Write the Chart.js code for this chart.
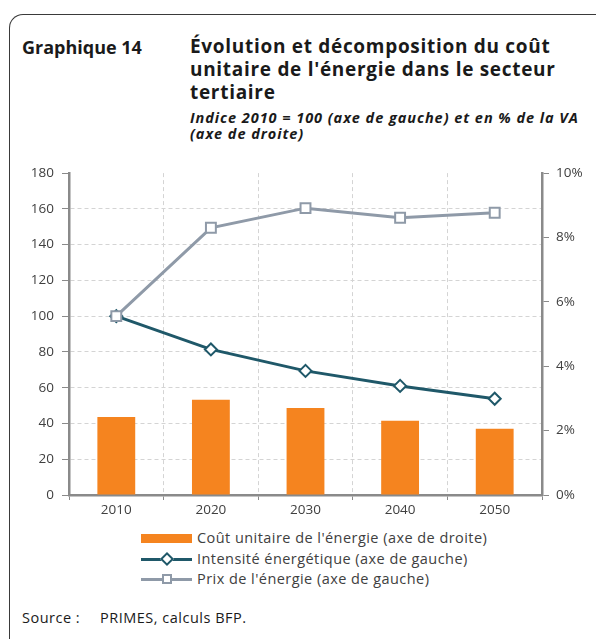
<!DOCTYPE html>
<html>
<head>
<meta charset="utf-8">
<script src="https://cdn.jsdelivr.net/npm/chart.js@4/dist/chart.umd.min.js"></script>
<style>
  body { margin: 0; width: 596px; height: 639px; background: #fff; position: relative; overflow: hidden;
         font-family: "Open Sans", sans-serif; color: #1a1a1a; }
  .cadre { position: absolute; left: 9px; top: 14px; width: 640px; height: 700px;
           border-top: 1.5px solid #3a3a3a; border-left: 1.5px solid #3a3a3a; border-top-left-radius: 14px; }
  .num { position: absolute; left: 22px; top: 35px; font-weight: bold; font-size: 18px; line-height: 24px; }
  .titre { position: absolute; left: 190px; top: 35px; width: 410px; font-weight: bold; font-size: 19px;
           line-height: 23px; letter-spacing: 0.7px; white-space: nowrap; }
  .sous { position: absolute; left: 190px; top: 110px; width: 410px; font-weight: bold; font-style: italic;
          font-size: 14.5px; line-height: 16px; letter-spacing: 0.95px; white-space: nowrap; }
  #boite { position: absolute; left: 0; top: 157px; width: 596px; height: 363px; }
  .leg { position: absolute; left: 141px; font-size: 14.5px; letter-spacing: 0.45px; color: #404040; }
  .leg div { position: relative; height: 20.5px; line-height: 20.5px; padding-left: 56px; white-space: nowrap; }
  .trait { position: absolute; left: 0; top: 9px; width: 51px; height: 3px; }
  .barre { position: absolute; left: 0; top: 6px; width: 51px; height: 9px; background: #f5841f; }
  .mk { position: absolute; left: 21px; top: 5px; width: 6px; height: 6px; background: #fff; border: 2px solid; }
  .source { position: absolute; top: 608px; font-size: 14.5px; letter-spacing: 0.5px; line-height: 20px; white-space: nowrap; }
</style>
</head>
<body>
<div class="cadre"></div>
<div class="num">Graphique 14</div>
<div class="titre">Évolution et décomposition du coût<br>unitaire de l'énergie dans le secteur<br>tertiaire</div>
<div class="sous">Indice 2010 = 100 (axe de gauche) et en % de la VA<br>(axe de droite)</div>
<div id="boite"><canvas id="graphe"></canvas></div>
<div class="leg" style="top:528px">
  <div><span class="barre"></span>Coût unitaire de l'énergie (axe de droite)</div>
  <div><span class="trait" style="background:#1f5869"></span><span class="mk" style="border-color:#1f5869;transform:rotate(45deg)"></span>Intensité énergétique (axe de gauche)</div>
  <div><span class="trait" style="background:#8f9aa8"></span><span class="mk" style="border-color:#8f9aa8"></span>Prix de l'énergie (axe de gauche)</div>
</div>
<div class="source" style="left:22px">Source :</div>
<div class="source" style="left:100px">PRIMES, calculs BFP.</div>

<script>
// donnees
const annees = ['2010', '2020', '2030', '2040', '2050'];
const coutUnitaire = [2.42, 2.96, 2.70, 2.31, 2.06];      // % de la VA, axe de droite
const intensite = [100, 81.4, 69.4, 61.0, 53.8];          // indice 2010 = 100
const prixEnergie = [100, 149.4, 160.4, 155.0, 157.8];    // indice 2010 = 100

const gris = '#8a8a8a';
const police = { family: 'Open Sans', size: 13.5 };

new Chart(document.getElementById('graphe'), {
  type: 'bar',
  data: {
    labels: annees,
    datasets: [
      {
        label: "Prix de l'énergie (axe de gauche)",
        type: 'line',
        data: prixEnergie,
        yAxisID: 'y',
        borderColor: '#8f9aa8',
        borderWidth: 3,
        pointStyle: 'rect',
        pointRadius: 7,
        pointBorderWidth: 2,
        pointBackgroundColor: '#fff',
        pointBorderColor: '#8f9aa8',
        order: 1
      },
      {
        label: 'Intensité énergétique (axe de gauche)',
        type: 'line',
        data: intensite,
        yAxisID: 'y',
        borderColor: '#1f5869',
        borderWidth: 3,
        pointStyle: 'rectRot',
        pointRadius: 6,
        pointBorderWidth: 2,
        pointBackgroundColor: '#fff',
        pointBorderColor: '#1f5869',
        order: 2
      },
      {
        label: "Coût unitaire de l'énergie (axe de droite)",
        data: coutUnitaire,
        yAxisID: 'y1',
        backgroundColor: '#f5841f',
        barPercentage: 0.4,
        categoryPercentage: 1,
        order: 3
      }
    ]
  },
  options: {
    responsive: true,
    maintainAspectRatio: false,
    animation: false,
    layout: { padding: { top: 10, left: 0, right: 0, bottom: 0 } },
    plugins: { legend: { display: false }, tooltip: { enabled: false } },
    scales: {
      x: {
        afterFit: (s) => { s.height = 25; },
        grid: { color: '#d4d4d4', tickColor: gris, tickLength: 5, offset: true },
        border: { color: gris, width: 2.5, dash: [4, 3] },
        ticks: { color: '#404040', font: police, padding: 2 }
      },
      y: {
        position: 'left',
        min: 0, max: 180,
        afterFit: (s) => { s.width = 69; },
        grid: {
          color: (c) => (c.tick && (c.tick.value === 180 || c.tick.value === 0)) ? 'rgba(0,0,0,0)' : '#d4d4d4',
          tickColor: gris, tickLength: 7
        },
        border: { color: gris, width: 2.5, dash: [4, 3] },
        ticks: { stepSize: 20, color: '#404040', font: police, padding: 8 }
      },
      y1: {
        position: 'right',
        min: 0, max: 10,
        afterFit: (s) => { s.width = 54; },
        grid: { drawOnChartArea: false, tickColor: gris, tickLength: 7 },
        border: { color: gris, width: 2.5 },
        ticks: { stepSize: 2, color: '#404040', font: police, padding: 7, callback: (v) => v + '%' }
      }
    }
  }
});
</script>
</body>
</html>
